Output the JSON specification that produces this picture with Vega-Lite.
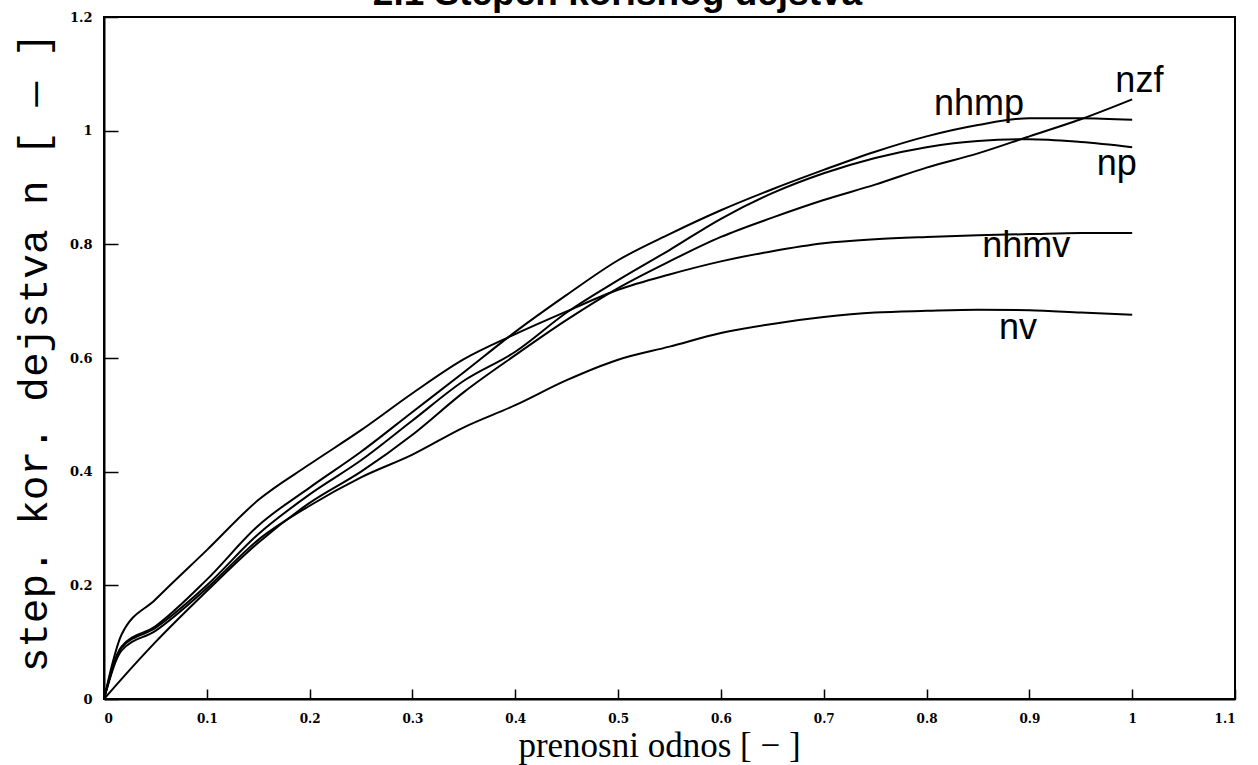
{
  "$schema": "https://vega.github.io/schema/vega-lite/v6.json",
  "width": 1131,
  "height": 682,
  "autosize": {"type": "none"},
  "padding": {"left": 104, "top": 17, "right": 23, "bottom": 66},
  "background": "white",
  "title": {
    "text": "2.1 Stepen korisnog dejstva",
    "fontSize": 37,
    "font": "Liberation Sans",
    "fontWeight": "bold",
    "color": "black",
    "frame": "group",
    "offset": 4,
    "dy": 35,
    "baseline": "alphabetic",
    "dx": -52
  },
  "config": {
    "view": {"stroke": "black", "strokeWidth": 2},
    "axis": {
      "grid": false,
      "domainColor": "black",
      "domainWidth": 2,
      "tickColor": "black",
      "tickWidth": 1.5,
      "labelColor": "black",
      "labelFont": "DejaVu Serif",
      "labelFontWeight": "bold",
      "labelFontSize": 13,
      "titleColor": "black"
    }
  },
  "datasets": {
    "curves": [
      {"s": "nhmv", "x": 0, "y": 0}, {"s": "nhmv", "x": 0.017, "y": 0.113}, {"s": "nhmv", "x": 0.05, "y": 0.175}, {"s": "nhmv", "x": 0.1, "y": 0.262}, {"s": "nhmv", "x": 0.15, "y": 0.35}, {"s": "nhmv", "x": 0.2, "y": 0.413}, {"s": "nhmv", "x": 0.25, "y": 0.473}, {"s": "nhmv", "x": 0.3, "y": 0.538}, {"s": "nhmv", "x": 0.35, "y": 0.598}, {"s": "nhmv", "x": 0.4, "y": 0.642}, {"s": "nhmv", "x": 0.45, "y": 0.682}, {"s": "nhmv", "x": 0.5, "y": 0.72}, {"s": "nhmv", "x": 0.55, "y": 0.747}, {"s": "nhmv", "x": 0.6, "y": 0.77}, {"s": "nhmv", "x": 0.65, "y": 0.788}, {"s": "nhmv", "x": 0.7, "y": 0.802}, {"s": "nhmv", "x": 0.75, "y": 0.809}, {"s": "nhmv", "x": 0.8, "y": 0.813}, {"s": "nhmv", "x": 0.85, "y": 0.816}, {"s": "nhmv", "x": 0.9, "y": 0.818}, {"s": "nhmv", "x": 0.95, "y": 0.82}, {"s": "nhmv", "x": 1.0, "y": 0.82},
      {"s": "nhmp", "x": 0, "y": 0}, {"s": "nhmp", "x": 0.017, "y": 0.092}, {"s": "nhmp", "x": 0.05, "y": 0.128}, {"s": "nhmp", "x": 0.1, "y": 0.21}, {"s": "nhmp", "x": 0.15, "y": 0.305}, {"s": "nhmp", "x": 0.2, "y": 0.372}, {"s": "nhmp", "x": 0.25, "y": 0.435}, {"s": "nhmp", "x": 0.3, "y": 0.505}, {"s": "nhmp", "x": 0.35, "y": 0.575}, {"s": "nhmp", "x": 0.4, "y": 0.646}, {"s": "nhmp", "x": 0.45, "y": 0.711}, {"s": "nhmp", "x": 0.5, "y": 0.772}, {"s": "nhmp", "x": 0.55, "y": 0.818}, {"s": "nhmp", "x": 0.6, "y": 0.86}, {"s": "nhmp", "x": 0.65, "y": 0.897}, {"s": "nhmp", "x": 0.7, "y": 0.931}, {"s": "nhmp", "x": 0.75, "y": 0.963}, {"s": "nhmp", "x": 0.8, "y": 0.99}, {"s": "nhmp", "x": 0.85, "y": 1.01}, {"s": "nhmp", "x": 0.9, "y": 1.022}, {"s": "nhmp", "x": 0.95, "y": 1.022}, {"s": "nhmp", "x": 1.0, "y": 1.019},
      {"s": "np", "x": 0, "y": 0}, {"s": "np", "x": 0.017, "y": 0.09}, {"s": "np", "x": 0.05, "y": 0.125}, {"s": "np", "x": 0.1, "y": 0.2}, {"s": "np", "x": 0.15, "y": 0.29}, {"s": "np", "x": 0.2, "y": 0.36}, {"s": "np", "x": 0.25, "y": 0.42}, {"s": "np", "x": 0.3, "y": 0.49}, {"s": "np", "x": 0.35, "y": 0.56}, {"s": "np", "x": 0.4, "y": 0.611}, {"s": "np", "x": 0.45, "y": 0.68}, {"s": "np", "x": 0.5, "y": 0.737}, {"s": "np", "x": 0.55, "y": 0.79}, {"s": "np", "x": 0.6, "y": 0.845}, {"s": "np", "x": 0.65, "y": 0.89}, {"s": "np", "x": 0.7, "y": 0.925}, {"s": "np", "x": 0.75, "y": 0.952}, {"s": "np", "x": 0.8, "y": 0.971}, {"s": "np", "x": 0.85, "y": 0.982}, {"s": "np", "x": 0.9, "y": 0.985}, {"s": "np", "x": 0.95, "y": 0.98}, {"s": "np", "x": 1.0, "y": 0.971},
      {"s": "nzf", "x": 0, "y": 0}, {"s": "nzf", "x": 0.017, "y": 0.035}, {"s": "nzf", "x": 0.05, "y": 0.1}, {"s": "nzf", "x": 0.1, "y": 0.19}, {"s": "nzf", "x": 0.15, "y": 0.275}, {"s": "nzf", "x": 0.2, "y": 0.345}, {"s": "nzf", "x": 0.25, "y": 0.4}, {"s": "nzf", "x": 0.3, "y": 0.465}, {"s": "nzf", "x": 0.35, "y": 0.54}, {"s": "nzf", "x": 0.4, "y": 0.605}, {"s": "nzf", "x": 0.45, "y": 0.667}, {"s": "nzf", "x": 0.5, "y": 0.723}, {"s": "nzf", "x": 0.55, "y": 0.77}, {"s": "nzf", "x": 0.6, "y": 0.813}, {"s": "nzf", "x": 0.65, "y": 0.847}, {"s": "nzf", "x": 0.7, "y": 0.878}, {"s": "nzf", "x": 0.75, "y": 0.905}, {"s": "nzf", "x": 0.8, "y": 0.935}, {"s": "nzf", "x": 0.85, "y": 0.96}, {"s": "nzf", "x": 0.9, "y": 0.99}, {"s": "nzf", "x": 0.95, "y": 1.02}, {"s": "nzf", "x": 1.0, "y": 1.055},
      {"s": "nv", "x": 0, "y": 0}, {"s": "nv", "x": 0.017, "y": 0.085}, {"s": "nv", "x": 0.05, "y": 0.12}, {"s": "nv", "x": 0.1, "y": 0.195}, {"s": "nv", "x": 0.15, "y": 0.28}, {"s": "nv", "x": 0.2, "y": 0.34}, {"s": "nv", "x": 0.25, "y": 0.39}, {"s": "nv", "x": 0.3, "y": 0.43}, {"s": "nv", "x": 0.35, "y": 0.478}, {"s": "nv", "x": 0.4, "y": 0.517}, {"s": "nv", "x": 0.45, "y": 0.561}, {"s": "nv", "x": 0.5, "y": 0.597}, {"s": "nv", "x": 0.55, "y": 0.62}, {"s": "nv", "x": 0.6, "y": 0.644}, {"s": "nv", "x": 0.65, "y": 0.66}, {"s": "nv", "x": 0.7, "y": 0.672}, {"s": "nv", "x": 0.75, "y": 0.68}, {"s": "nv", "x": 0.8, "y": 0.683}, {"s": "nv", "x": 0.85, "y": 0.685}, {"s": "nv", "x": 0.9, "y": 0.684}, {"s": "nv", "x": 0.95, "y": 0.68}, {"s": "nv", "x": 1.0, "y": 0.676}
    ],
    "labels": [
      {"label": "nzf", "x": 1.007, "y": 1.068},
      {"label": "nhmp", "x": 0.851, "y": 1.028},
      {"label": "np", "x": 0.985, "y": 0.922},
      {"label": "nhmv", "x": 0.897, "y": 0.778},
      {"label": "nv", "x": 0.889, "y": 0.633}
    ]
  },
  "layer": [
    {
      "data": {"name": "curves"},
      "mark": {"type": "line", "color": "black", "strokeWidth": 2, "interpolate": "monotone"},
      "encoding": {
        "x": {
          "field": "x",
          "type": "quantitative",
          "scale": {"domain": [0, 1.1], "nice": false},
          "axis": {
            "values": [0, 0.1, 0.2, 0.3, 0.4, 0.5, 0.6, 0.7, 0.8, 0.9, 1, 1.1],
            "format": "~g",
            "tickSize": -10,
            "labelPadding": 24,
            "labelFontSize": 12,
            "title": "prenosni odnos [ − ]",
            "titleFont": "Liberation Serif",
            "titleFontSize": 35,
            "titleFontWeight": "normal",
            "titleBaseline": "alphabetic",
            "titleY": 57,
            "titleX": 555
          }
        },
        "y": {
          "field": "y",
          "type": "quantitative",
          "scale": {"domain": [0, 1.2], "nice": false},
          "axis": {
            "values": [0, 0.2, 0.4, 0.6, 0.8, 1, 1.2],
            "format": "~g",
            "tickSize": -14,
            "labelPadding": 26,
            "title": "step. kor. dejstva n [ — ]",
            "titleFont": "Liberation Mono",
            "titleFontSize": 41,
            "titleFontWeight": "normal",
            "titleAngle": -90,
            "titleBaseline": "middle",
            "titleAlign": "center",
            "titleX": -70,
            "titleY": 335
          }
        },
        "detail": {"field": "s", "type": "nominal"}
      }
    },
    {
      "data": {"name": "labels"},
      "mark": {"type": "text", "font": "Liberation Sans", "fontSize": 36, "color": "black", "baseline": "alphabetic", "align": "center"},
      "encoding": {
        "x": {"field": "x", "type": "quantitative"},
        "y": {"field": "y", "type": "quantitative"},
        "text": {"field": "label"}
      }
    }
  ]
}
